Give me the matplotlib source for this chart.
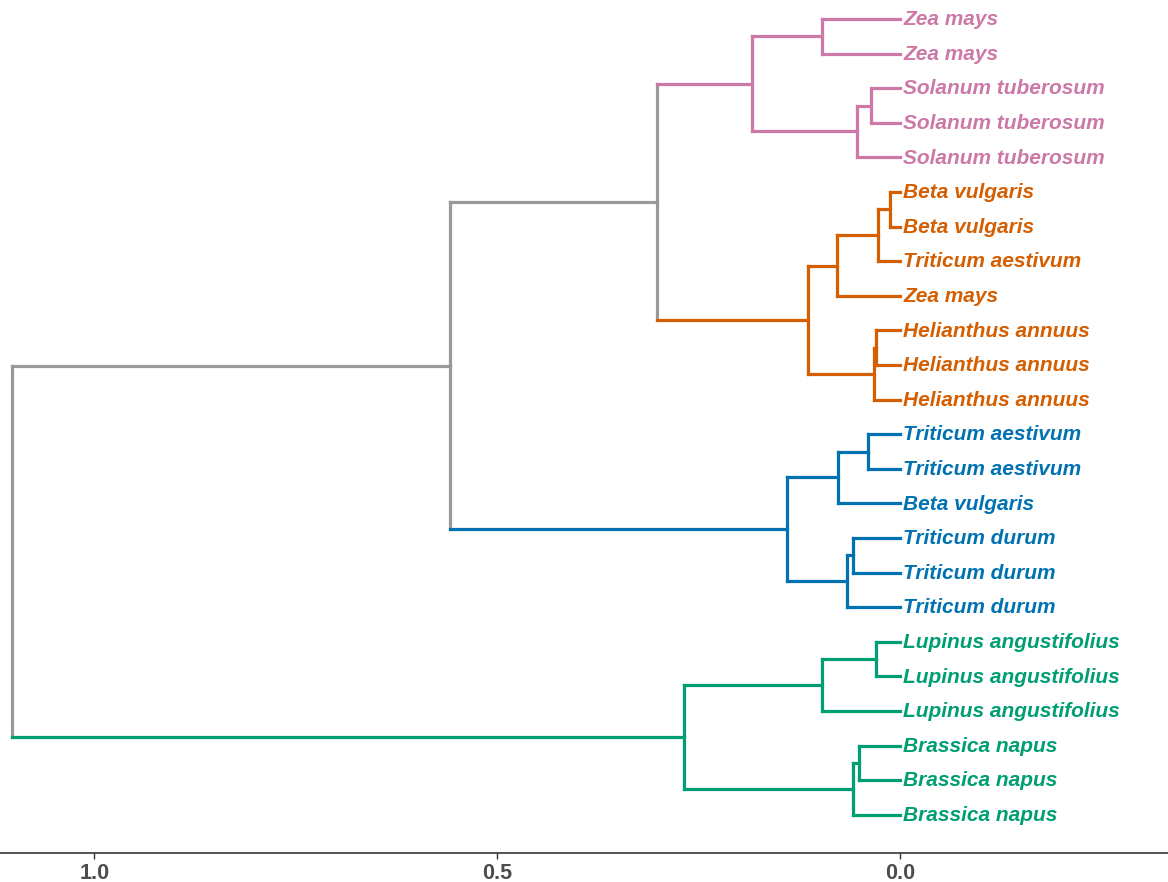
import matplotlib
matplotlib.use("Agg")
import matplotlib.pyplot as plt

# Leaves (top to bottom)
leaf_labels = [
    "Zea mays", "Zea mays", "Solanum tuberosum", "Solanum tuberosum", "Solanum tuberosum",
    "Beta vulgaris", "Beta vulgaris", "Triticum aestivum", "Zea mays",
    "Helianthus annuus", "Helianthus annuus", "Helianthus annuus",
    "Triticum aestivum", "Triticum aestivum", "Beta vulgaris",
    "Triticum durum", "Triticum durum", "Triticum durum",
    "Lupinus angustifolius", "Lupinus angustifolius", "Lupinus angustifolius",
    "Brassica napus", "Brassica napus", "Brassica napus",
]
leaf_cluster = [0]*5 + [1]*7 + [2]*6 + [3]*6
cluster_colors = ["#CC79A7", "#D55E00", "#0072B2", "#009E73"]
grey = "#999999"

# merges: (name, left child, right child, height); leaves are "L0".."L23"
merge_names = ["p1", "p2", "p3", "p4",
               "o1", "o2", "o3", "o4", "o5", "o6",
               "b1", "b2", "b3", "b4", "b5",
               "g1", "g2", "g3", "g4", "g5",
               "r1", "r2", "root"]
merge_left = ["L0", "L2", "p2", "p1",
              "L5", "o1", "o2", "L9", "o4", "o3",
              "L12", "b1", "L15", "b3", "b2",
              "L18", "g1", "L21", "g3", "g2",
              "p4", "r1", "r2"]
merge_right = ["L1", "L3", "L4", "p3",
               "L6", "L7", "L8", "L10", "L11", "o5",
               "L13", "L14", "L16", "L17", "b4",
               "L19", "L20", "L22", "L23", "g4",
               "o6", "b5", "g5"]
merge_height = [0.096, 0.036, 0.053, 0.184,
                0.012, 0.027, 0.078, 0.029, 0.032, 0.114,
                0.040, 0.077, 0.058, 0.066, 0.140,
                0.029, 0.096, 0.051, 0.058, 0.268,
                0.301, 0.558, 1.102]
grey_merges = {"r1", "r2", "root"}

n = len(leaf_labels)
ypos, hgt, col = {}, {}, {}
for i in range(n):
    ypos[f"L{i}"] = n - i
    hgt[f"L{i}"] = 0.0
    col[f"L{i}"] = cluster_colors[leaf_cluster[i]]
for name, a, b, h in zip(merge_names, merge_left, merge_right, merge_height):
    ypos[name] = (ypos[a] + ypos[b]) / 2
    hgt[name] = h
    col[name] = grey if name in grey_merges else col[a]

fig = plt.figure(figsize=(11.68, 8.82), dpi=100)
ax = fig.add_axes([0, 0.033, 1, 0.967])
lw = 2.3
for name, a, b, h in zip(merge_names, merge_left, merge_right, merge_height):
    ax.plot([h, h], [ypos[a], ypos[b]], color=col[name], lw=lw, solid_capstyle="projecting")
    for c in (a, b):
        ax.plot([h, hgt[c]], [ypos[c], ypos[c]], color=col[c], lw=lw, solid_capstyle="projecting")

for i, lab in enumerate(leaf_labels):
    ax.text(-0.004, n - i - 0.02, lab, color=cluster_colors[leaf_cluster[i]], fontsize=15,
            fontweight="bold", fontstyle="italic", family="Liberation Sans",
            ha="left", va="center")

ax.set_xlim(1.117, -0.333)
ax.set_ylim(-0.1, n + 0.55)
for s in ["top", "right", "left"]:
    ax.spines[s].set_visible(False)
ax.spines["bottom"].set_color("#333333")
ax.spines["bottom"].set_linewidth(1.2)
ax.set_yticks([])
ax.set_xticks([1.0, 0.5, 0.0])
ax.set_xticklabels(["1.0", "0.5", "0.0"])
ax.tick_params(axis="x", length=4, width=1, color="#333333", labelcolor="#4D4D4D",
               labelsize=15.5, pad=3)
for t in ax.get_xticklabels():
    t.set_fontweight("bold")
    t.set_family("Liberation Sans")

fig.savefig("out.png", dpi=100)
